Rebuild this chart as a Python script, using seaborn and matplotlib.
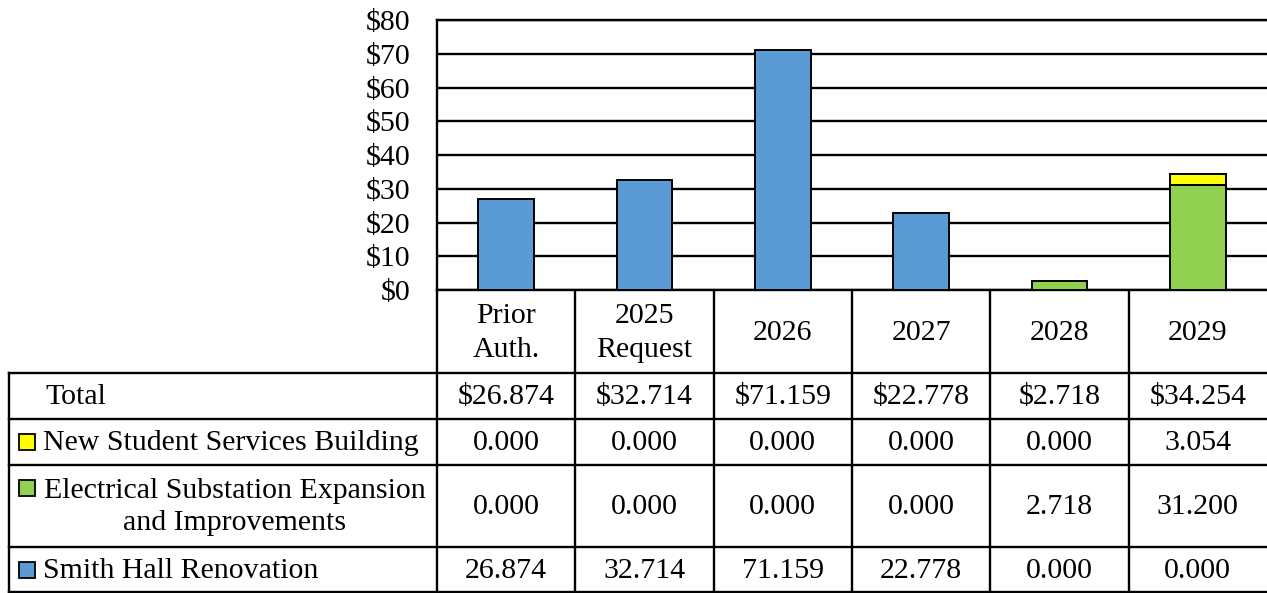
import matplotlib
matplotlib.use("Agg")
import matplotlib.pyplot as plt
import seaborn as sns
import pandas as pd
import numpy as np

# ---- data (millions of $) ----
categories = ["Prior\nAuth.", "2025\nRequest", "2026", "2027", "2028", "2029"]
smith_hall = [26.874, 32.714, 71.159, 22.778, 0.000, 0.000]
substation = [0.000, 0.000, 0.000, 0.000, 2.718, 31.200]
student_bldg = [0.000, 0.000, 0.000, 0.000, 0.000, 3.054]

series_names = ["Smith Hall Renovation",
                "Electrical Substation Expansion\nand Improvements",
                "New Student Services Building"]
series_values = [smith_hall, substation, student_bldg]
series_colors = ["#5B9BD5", "#92D050", "#FFFF00"]

yticks = list(range(0, 90, 10))

sns.set_theme(style="white")
plt.rcParams['font.family'] = ['Liberation Serif', 'DejaVu Serif']
plt.rcParams['text.color'] = 'black'
plt.rcParams['ytick.color'] = 'black'
FS = 21.5

W, H = 1267, 593
fig = plt.figure(figsize=(W/100, H/100), dpi=100)

def frac(x0, y0, x1, y1):
    return [x0/W, 1 - y1/H, (x1 - x0)/W, (y1 - y0)/H]

ax = fig.add_axes(frac(437, 20, 1267, 290))

# stacked bars
base = np.zeros(len(categories))
for name, vals, col in zip(series_names, series_values, series_colors):
    df = pd.DataFrame({"cat": categories, "val": vals, "base": base})
    sub = df[df["val"] > 0]
    sns.barplot(data=sub, x="cat", y="val", order=categories, color=col,
                bottom=sub["base"].values, width=0.4, edgecolor="black",
                linewidth=1.4, saturation=1, ax=ax, zorder=3)
    base = base + np.array(vals)

ax.set_xlim(-0.5, len(categories) - 0.5)
ax.set_ylim(0, 80)
ax.set_yticks(yticks)
ax.set_yticklabels(["$%d" % t for t in yticks], fontsize=FS)
ax.set_xticks([])
ax.set_xlabel("")
ax.set_ylabel("")
ax.tick_params(axis="y", length=0, pad=19, labelcolor="black")
ax.yaxis.grid(True, color="black", lw=1.7)
ax.set_axisbelow(True)
for s in ["left", "bottom", "top"]:
    ax.spines[s].set_color("black")
    ax.spines[s].set_linewidth(1.7)
ax.spines["right"].set_visible(False)

# ---- data table below ----
tab = fig.add_axes(frac(0, 290, 1267, 593))
tab.set_xlim(0, W)
tab.set_ylim(593, 290)
tab.axis("off")

x0, x1 = 437, 1267
step = (x1 - x0) / len(categories)
col_edges = [x0 + i*step for i in range(len(categories) + 1)]
col_mid = [x0 + (i + 0.5)*step for i in range(len(categories))]
row_edges = [291, 373, 419, 465, 547, 592]
lw = 1.7
kw = dict(color="black", lw=lw, clip_on=False, solid_capstyle="projecting")

# header cells
for xe in col_edges[:-1]:
    tab.plot([xe, xe], [row_edges[0], row_edges[-1]], **kw)
tab.plot([9, 9], [row_edges[1], row_edges[-1]], **kw)
for ye in row_edges[1:]:
    tab.plot([9, W], [ye, ye], **kw)

for xm, c in zip(col_mid, categories):
    tab.text(xm, (row_edges[0] + row_edges[1]) / 2 + 1, c, ha="center",
             va="center", fontsize=FS, linespacing=1.38)

totals = [sum(v) for v in zip(*series_values)]
rows = [("Total", None, ["$%.3f" % t for t in totals]),
        (series_names[2], series_colors[2], ["%.3f" % v for v in student_bldg]),
        (series_names[1], series_colors[1], ["%.3f" % v for v in substation]),
        (series_names[0], series_colors[0], ["%.3f" % v for v in smith_hall])]

for r, (label, col, vals) in enumerate(rows):
    ym = (row_edges[r + 1] + row_edges[r + 2]) / 2
    for xm, v in zip(col_mid, vals):
        tab.text(xm, ym + 1, v, ha="center", va="center", fontsize=FS)
    if col is None:
        tab.text(45, ym + 1, label, ha="left", va="center", fontsize=FS)
    else:
        sq_y = ym - 8 if "\n" not in label else ym - 26
        tab.add_patch(plt.Rectangle((19, sq_y), 16, 16, facecolor=col,
                                    edgecolor="black", lw=1.3, clip_on=False))
        if "\n" in label:
            tab.text(235, ym + 1, label, ha="center", va="center",
                     fontsize=FS, linespacing=1.3, multialignment="center")
        else:
            tab.text(43, ym + 1, label, ha="left", va="center", fontsize=FS)

fig.savefig("out.png", dpi=100)
